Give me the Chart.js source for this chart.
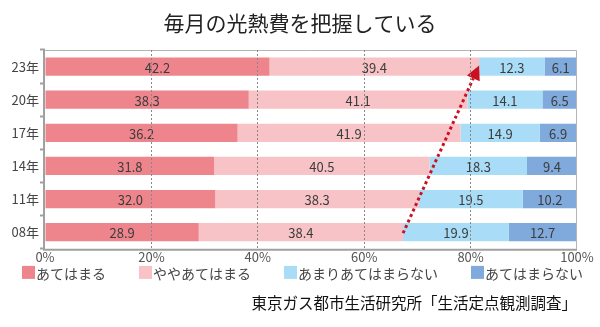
<!DOCTYPE html>
<html>
<head>
<meta charset="utf-8">
<script src="https://cdn.jsdelivr.net/npm/chart.js@4"></script>
<style>
  html, body { margin: 0; padding: 0; background: #fff; }
  #wrap { width: 600px; height: 327px; }
</style>
</head>
<body>
<div id="wrap"><canvas id="myChart" width="600" height="327"></canvas></div>
<script>
var years = ['23年', '20年', '17年', '14年', '11年', '08年'];
var seriesNames = ['あてはまる', 'ややあてはまる', 'あまりあてはまらない', 'あてはまらない'];
var atehamaru = [42.2, 38.3, 36.2, 31.8, 32.0, 28.9];
var yaya = [39.4, 41.1, 41.9, 40.5, 38.3, 38.4];
var amari = [12.3, 14.1, 14.9, 18.3, 19.5, 19.9];
var atehamaranai = [6.1, 6.5, 6.9, 9.4, 10.2, 12.7];
var xTicks = [0, 20, 40, 60, 80, 100];
var titleText = '毎月の光熱費を把握している';

var colors = ['#ee848c', '#f7c3c6', '#a9dcf6', '#80a9dc'];
var font = '"Noto Sans CJK JP", "Noto Sans", sans-serif';

// labels in the middle of each bar segment
var segLabels = {
	id: 'segLabels',
	afterDatasetsDraw: function(chart){
		var ctx = chart.ctx;
		ctx.save();
		ctx.font = '13px ' + font;
		ctx.fillStyle = '#3c3c3c';
		ctx.textAlign = 'center';
		ctx.textBaseline = 'middle';
		chart.data.datasets.forEach(function(ds, i){
			var meta = chart.getDatasetMeta(i);
			meta.data.forEach(function(bar, j){
				ctx.fillText(ds.data[j].toFixed(1), (bar.x + bar.base) / 2, bar.y + 1);
			});
		});
		ctx.restore();
	}
};

// frame round the plot + red dotted arrow
var frameArrow = {
	id: 'frameArrow',
	afterDatasetsDraw: function(chart){
		var ctx = chart.ctx;
		var a = chart.chartArea;
		var xs = chart.scales.x, ys = chart.scales.y;
		ctx.save();
		ctx.strokeStyle = '#b5b5b5';
		ctx.lineWidth = 1;
		ctx.beginPath();
		ctx.moveTo(a.left, a.top + 0.5);
		ctx.lineTo(a.right - 0.5, a.top + 0.5);
		ctx.lineTo(a.right - 0.5, a.bottom);
		ctx.stroke();
		ctx.lineWidth = 2;
		ctx.strokeStyle = '#a0a0a0';
		ctx.beginPath();
		ctx.moveTo(a.left - 1, a.top);
		ctx.lineTo(a.left - 1, a.bottom + 1);
		ctx.lineTo(a.right, a.bottom + 1);
		ctx.stroke();

		var last = years.length - 1;
		var x1 = xs.getPixelForValue(atehamaru[last] + yaya[last]);
		var y1 = ys.getPixelForValue(last) + 1;
		var x2 = xs.getPixelForValue(atehamaru[0] + yaya[0]);
		var y2 = ys.getPixelForValue(0) - 1;
		var ang = Math.atan2(y2 - y1, x2 - x1);
		var len = 14, half = 7;
		var bx = x2 - Math.cos(ang) * len, by = y2 - Math.sin(ang) * len;
		ctx.strokeStyle = '#cc1020';
		ctx.fillStyle = '#cc1020';
		ctx.lineWidth = 3;
		ctx.setLineDash([3, 3]);
		ctx.beginPath();
		ctx.moveTo(x1, y1);
		ctx.lineTo(bx, by);
		ctx.stroke();
		ctx.setLineDash([]);
		ctx.beginPath();
		ctx.moveTo(x2, y2);
		ctx.lineTo(bx + Math.sin(ang) * half, by - Math.cos(ang) * half);
		ctx.lineTo(bx - Math.sin(ang) * half, by + Math.cos(ang) * half);
		ctx.closePath();
		ctx.fill();
		ctx.restore();
	}
};

// title centred on the canvas, legend in one row
var titleLegend = {
	id: 'titleLegend',
	afterDraw: function(chart){
		var ctx = chart.ctx;
		ctx.save();
		ctx.font = '21px ' + font;
		ctx.fillStyle = '#222';
		ctx.textAlign = 'center';
		ctx.textBaseline = 'middle';
		ctx.fillText(titleText, chart.width / 2, 23);

		var y = chart.scales.x.bottom + 8;
		var x = 22;
		ctx.font = '14px ' + font;
		ctx.textAlign = 'left';
		chart.data.datasets.forEach(function(ds){
			ctx.fillStyle = ds.backgroundColor;
			ctx.fillRect(x, y - 6.5, 13, 13);
			ctx.fillStyle = '#444';
			ctx.fillText(ds.label, x + 14, y + 1);
			x += 14 + ctx.measureText(ds.label).width + 33;
		});
		ctx.restore();
	}
};

var allData = [atehamaru, yaya, amari, atehamaranai];
var datasets = [];
for (var i = 0; i < allData.length; i++) {
	datasets.push({
		label: seriesNames[i],
		data: allData[i],
		backgroundColor: colors[i],
		borderWidth: 0,
		barPercentage: 0.55,
		categoryPercentage: 1
	});
}

var ctx = document.getElementById('myChart').getContext('2d');
var myChart = new Chart(ctx, {
	type: 'bar',
	data: { labels: years, datasets: datasets },
	plugins: [segLabels, frameArrow, titleLegend],
	options: {
		indexAxis: 'y',
		responsive: false,
		animation: false,
		layout: { padding: { left: 0, right: 23, top: 50, bottom: 0 } },
		scales: {
			x: {
				stacked: true,
				min: 0,
				max: 100,
				afterBuildTicks: function(scale){
					scale.ticks = xTicks.map(function(v){ return { value: v }; });
				},
				ticks: {
					color: '#555',
					font: { family: font, size: 13 },
					padding: 0,
					callback: function(v){ return v + '%'; }
				},
				grid: {
					color: function(c){
						return (c.tick && (c.tick.value === 0 || c.tick.value === 100)) ? 'rgba(0,0,0,0)' : '#888';
					},
					drawTicks: false,
					z: 1
				},
				border: { display: false, dash: [2, 2] }
			},
			y: {
				stacked: true,
				afterFit: function(scale){ scale.width = 45; },
				ticks: {
					color: '#444',
					font: { family: font, size: 13 },
					padding: 1
				},
				grid: {
					drawOnChartArea: false,
					color: '#a0a0a0',
					tickLength: 5,
					tickWidth: 2
				},
				border: { display: false }
			}
		},
		plugins: {
			title: { display: false },
			subtitle: {
				display: true,
				position: 'bottom',
				align: 'end',
				text: '東京ガス都市生活研究所「生活定点観測調査」',
				color: '#111',
				font: { family: font, size: 15.5, weight: 'normal' },
				padding: { top: 29, bottom: 15 }
			},
			legend: { display: false },
			tooltip: { enabled: false }
		}
	}
});
</script>
</body>
</html>
